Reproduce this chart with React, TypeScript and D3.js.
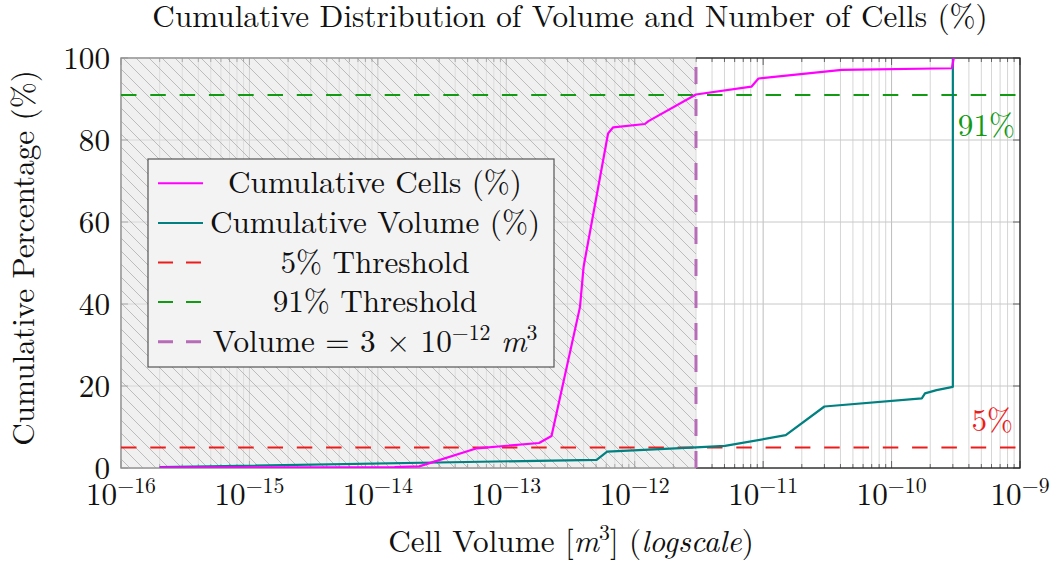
import React from "react";
import * as d3 from "d3";

// ---- data ----
const cellsVolume = [2e-16, 1.35e-14, 2.1e-14, 5.9e-14, 1.8e-13, 2.25e-13, 3.75e-13, 4.0e-13, 6.2e-13, 6.8e-13, 1.2e-12, 1.28e-12, 3.0e-12, 8.1e-12, 9.2e-12, 4.1e-11, 2.95e-10, 3.05e-10];
const cellsPct = [0.1, 0.2, 0.4, 4.8, 6.1, 7.8, 39.3, 49.1, 81.6, 83.1, 83.9, 84.6, 91.1, 93.0, 95.0, 97.1, 97.5, 100];

const volumeVolume = [2e-16, 5.05e-13, 6.1e-13, 3.0e-12, 5.05e-12, 1.5e-11, 3.0e-11, 1.72e-10, 1.82e-10, 2.24e-10, 3.0e-10, 3.0e-10];
const volumePct = [0.2, 2.0, 4.0, 5.05, 5.4, 8.0, 15.0, 17.0, 18.2, 19.0, 19.8, 100];

const lowThreshold = 5;
const highThreshold = 91;
const volumeCut = 3e-12;

const xDecades = [-16, -15, -14, -13, -12, -11, -10, -9];
const yTicks = [0, 20, 40, 60, 80, 100];

const legendLabels = ["Cumulative Cells (%)", "Cumulative Volume (%)", "5% Threshold", "91% Threshold"];

const W = 1064, H = 563;
const M = { left: 121, right: 1020, top: 58, bottom: 468 };
const FONT = '"Latin Modern Roman", "CMU Serif", "Liberation Serif", serif';
const FS = 31.2;
const SUP = 21.8;
const SUPDY = 11.5;

const C = {
  cells: "#ff00ff",
  vol: "#008080",
  red: "#ec1c1c",
  green: "#129a12",
  purple: "#b66cb6",
};

export default function App() {
  const x = d3.scaleLog().domain([1e-16, 1e-9]).range([M.left, M.right]);
  const y = d3.scaleLinear().domain([0, 100]).range([M.bottom, M.top]);

  const majors = xDecades.map((e) => Math.pow(10, e));
  const minors: number[] = [];
  xDecades.slice(0, -1).forEach((e) => {
    for (let m = 2; m <= 9; m++) minors.push(m * Math.pow(10, e));
  });

  const line = d3
    .line<[number, number]>()
    .x((d) => x(d[0]))
    .y((d) => y(d[1]));
  const cellsPts = cellsVolume.map((v, i) => [v, cellsPct[i]] as [number, number]);
  const volPts = volumeVolume.map((v, i) => [v, volumePct[i]] as [number, number]);

  const xc = x(volumeCut);
  const legend = { x: 148, y: 159, w: 406, h: 208 };
  const rowY = (i: number) => 183.3 + i * 39.6;

  return (
    <svg width={W} height={H} style={{ position: "absolute", left: 0, top: 0, background: "#fff", fontFamily: FONT }}>
      <defs>
        <pattern id="hatch" patternUnits="userSpaceOnUse" width={13} height={13}>
          <path d="M-1,-1 L14,14 M-1,12 L1,14 M12,-1 L14,1" stroke="#999" strokeWidth={1} opacity={0.6} />
        </pattern>
        <clipPath id="plot">
          <rect x={M.left} y={M.top} width={M.right - M.left} height={M.bottom - M.top} />
        </clipPath>
      </defs>

      {/* title */}
      <text x={570} y={27} fontSize={FS} textAnchor="middle" fill="#111">
        Cumulative Distribution of Volume and Number of Cells (%)
      </text>

      {/* grid */}
      <g>
        {minors.map((v, i) => (
          <line key={"mg" + i} x1={x(v)} x2={x(v)} y1={M.top} y2={M.bottom} stroke="#d6d6d6" strokeWidth={1} />
        ))}
        {majors.map((v, i) => (
          <line key={"Mg" + i} x1={x(v)} x2={x(v)} y1={M.top} y2={M.bottom} stroke="#bdbdbd" strokeWidth={1} />
        ))}
        {yTicks.map((t) => (
          <line key={"yg" + t} x1={M.left} x2={M.right} y1={y(t)} y2={y(t)} stroke="#c8c8c8" strokeWidth={1} />
        ))}
      </g>

      {/* ticks */}
      <g stroke="#666" strokeWidth={1}>
        {minors.map((v, i) => (
          <g key={"mt" + i}>
            <line x1={x(v)} x2={x(v)} y1={M.bottom} y2={M.bottom - 4} />
            <line x1={x(v)} x2={x(v)} y1={M.top} y2={M.top + 4} />
          </g>
        ))}
        {majors.map((v, i) => (
          <g key={"Mt" + i}>
            <line x1={x(v)} x2={x(v)} y1={M.bottom} y2={M.bottom - 7} />
            <line x1={x(v)} x2={x(v)} y1={M.top} y2={M.top + 7} />
          </g>
        ))}
        {yTicks.map((t) => (
          <g key={"yt" + t}>
            <line x1={M.left} x2={M.left + 7} y1={y(t)} y2={y(t)} />
            <line x1={M.right} x2={M.right - 7} y1={y(t)} y2={y(t)} />
          </g>
        ))}
      </g>

      {/* frame */}
      <rect x={M.left} y={M.top} width={M.right - M.left} height={M.bottom - M.top} fill="none" stroke="#222" strokeWidth={1.3} />

      {/* hatched region below the volume cut */}
      <rect x={M.left - 1} y={M.top - 1} width={xc - M.left + 1} height={M.bottom - M.top + 2} fill="#e4e4e4" opacity={0.55} />
      <rect x={M.left} y={M.top} width={xc - M.left} height={M.bottom - M.top} fill="url(#hatch)" />

      {/* threshold lines */}
      <line x1={M.left} x2={M.right} y1={y(lowThreshold)} y2={y(lowThreshold)} stroke={C.red} strokeWidth={2} strokeDasharray="15.5 13.8" />
      <line x1={M.left} x2={M.right} y1={y(highThreshold)} y2={y(highThreshold)} stroke={C.green} strokeWidth={2} strokeDasharray="15.5 13.8" />

      {/* data */}
      <g clipPath="url(#plot)">
        <path d={line(volPts) || ""} fill="none" stroke={C.vol} strokeWidth={2.2} strokeLinejoin="round" />
        <path d={line(cellsPts) || ""} fill="none" stroke={C.cells} strokeWidth={2.2} strokeLinejoin="round" />
      </g>

      {/* volume cut */}
      <line x1={xc} x2={xc} y1={y(0)} y2={y(100)} stroke={C.purple} strokeWidth={3} strokeDasharray="17 15" />

      {/* annotations */}
      <text x={1015} y={136} fontSize={FS} textAnchor="end" fill={C.green}>91%</text>
      <text x={1013} y={430.5} fontSize={FS} textAnchor="end" fill={C.red}>5%</text>

      {/* y tick labels */}
      {yTicks.map((t) => (
        <text key={"yl" + t} x={110} y={y(t) + 10.8} fontSize={FS} textAnchor="end" fill="#111">
          {t}
        </text>
      ))}

      {/* x tick labels */}
      {xDecades.map((e) => (
        <text key={"xl" + e} x={x(Math.pow(10, e))} y={504.5} fontSize={FS} textAnchor="middle" fill="#111">
          10
          <tspan dy={-SUPDY} fontSize={SUP}>{"\u2212" + Math.abs(e)}</tspan>
        </text>
      ))}

      {/* axis labels */}
      <text x={571} y={551.5} fontSize={FS} textAnchor="middle" fill="#111">
        Cell Volume [<tspan fontStyle="italic">m</tspan>
        <tspan dy={-SUPDY} fontSize={SUP}>3</tspan>
        <tspan dy={SUPDY}>] (</tspan>
        <tspan fontStyle="italic">logscale</tspan>)
      </text>
      <text transform={`translate(33.5,258) rotate(-90)`} fontSize={FS} textAnchor="middle" fill="#111">
        Cumulative Percentage (%)
      </text>

      {/* legend */}
      <g>
        <rect x={legend.x} y={legend.y} width={legend.w} height={legend.h} fill="#f3f3f3" stroke="#555" strokeWidth={1.2} />
        <line x1={158} x2={203} y1={rowY(0)} y2={rowY(0)} stroke={C.cells} strokeWidth={2} />
        <line x1={158} x2={203} y1={rowY(1)} y2={rowY(1)} stroke={C.vol} strokeWidth={2} />
        <line x1={158} x2={203} y1={rowY(2)} y2={rowY(2)} stroke={C.red} strokeWidth={2} strokeDasharray="15 13" />
        <line x1={158} x2={203} y1={rowY(3)} y2={rowY(3)} stroke={C.green} strokeWidth={2} strokeDasharray="15 13" />
        <line x1={158} x2={203} y1={rowY(4)} y2={rowY(4)} stroke={C.purple} strokeWidth={3} strokeDasharray="15 13" />
        {legendLabels.map((l, i) => (
          <text key={l} x={375} y={rowY(i) + 10} fontSize={FS} textAnchor="middle" fill="#111">
            {l}
          </text>
        ))}
        <text x={375} y={rowY(4) + 10} fontSize={FS} textAnchor="middle" fill="#111">
          Volume = 3 × 10
          <tspan dy={-SUPDY} fontSize={SUP}>{"\u221212"}</tspan>
          <tspan dy={SUPDY}> </tspan>
          <tspan fontStyle="italic">m</tspan>
          <tspan dy={-SUPDY} fontSize={SUP}>3</tspan>
        </text>
      </g>
    </svg>
  );
}
